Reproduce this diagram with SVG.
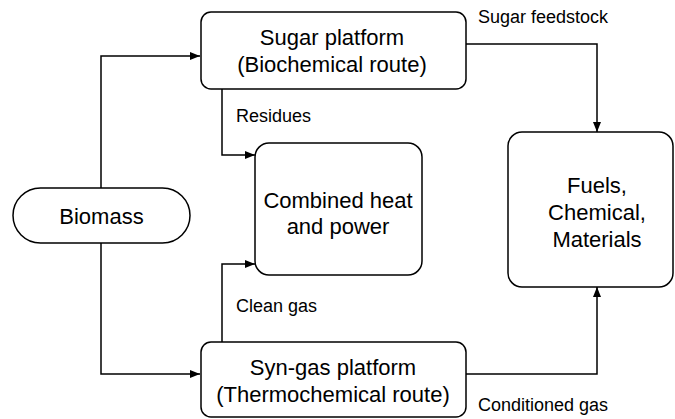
<svg xmlns="http://www.w3.org/2000/svg" width="675" height="419" viewBox="0 0 675 419">
<defs>
<marker id="ah" markerWidth="10" markerHeight="8" refX="10" refY="4" orient="auto" markerUnits="userSpaceOnUse">
<path d="M0,0 L10,4 L0,8 Z" fill="#000"/>
</marker>
<style>
.box{fill:#fff;stroke:#000;stroke-width:1.5}
.t{font-family:"Liberation Sans",Arial,sans-serif;font-size:22px;fill:#000;text-anchor:middle}
.l{font-family:"Liberation Sans",Arial,sans-serif;font-size:18px;fill:#000}
.c{fill:none;stroke:#000;stroke-width:1.5;marker-end:url(#ah)}
</style>
</defs>
<rect width="675" height="419" fill="#fff"/>
<g id="connectors">
<path class="c" d="M101,188 V56 H200"/>
<path class="c" d="M101,243 V374 H200"/>
<path class="c" d="M222,89 V155 H255"/>
<path class="c" d="M222,342 V264 H255"/>
<path class="c" d="M466,44 H597 V132"/>
<path class="c" d="M466,374 H597 V287"/>
<text class="l" x="478" y="23">Sugar feedstock</text>
<text class="l" x="236" y="122">Residues</text>
<text class="l" x="236" y="312">Clean gas</text>
<text class="l" x="478" y="411">Conditioned gas</text>
</g>
<g id="biomass">
<rect class="box" x="13" y="188" width="177" height="55" rx="27.5"/>
<text class="t" x="101.5" y="224">Biomass</text>
</g>
<g id="sugar">
<rect class="box" x="201" y="12" width="265" height="77" rx="10"/>
<text class="t" x="332" y="45">Sugar platform</text>
<text class="t" x="332" y="72">(Biochemical route)</text>
</g>
<g id="chp">
<rect class="box" x="255" y="143" width="167" height="132" rx="14"/>
<text class="t" x="338" y="208">Combined heat</text>
<text class="t" x="338" y="234">and power</text>
</g>
<g id="fuels">
<rect class="box" x="508" y="132" width="165" height="155" rx="14"/>
<text class="t" x="597" y="193">Fuels,</text>
<text class="t" x="597" y="220">Chemical,</text>
<text class="t" x="597" y="247">Materials</text>
</g>
<g id="syngas">
<rect class="box" x="201" y="342" width="265" height="75" rx="10"/>
<text class="t" x="333" y="375">Syn-gas platform</text>
<text class="t" x="333" y="402">(Thermochemical route)</text>
</g>
</svg>
